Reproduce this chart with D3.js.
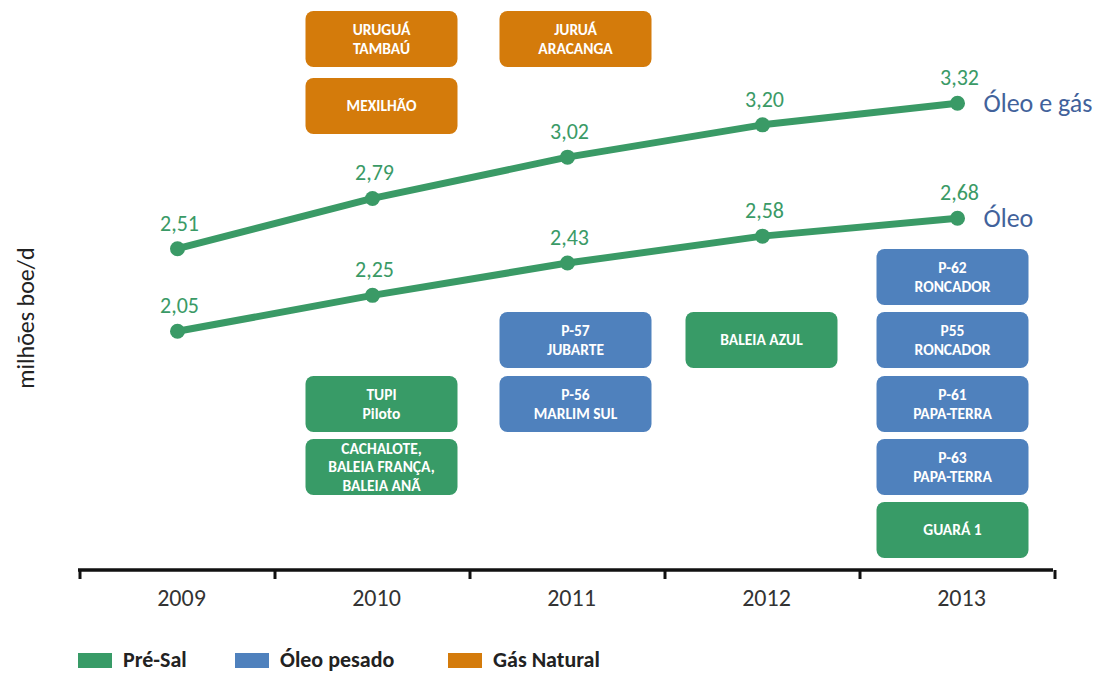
<!DOCTYPE html>
<html>
<head>
<meta charset="utf-8">
<script src="https://cdn.jsdelivr.net/npm/d3@7"></script>
<style>
  html, body { margin: 0; padding: 0; background: #fff; }
  svg { display: block; font-family: Calibri, Carlito, Lato, "Open Sans", sans-serif; }
</style>
</head>
<body>
<svg id="chart" width="1107" height="673"></svg>
<script>
// Production by year (millions boe/d)
const years = ["2009", "2010", "2011", "2012", "2013"];
const oleoGas = [2.51, 2.79, 3.02, 3.20, 3.32];
const oleo = [2.05, 2.25, 2.43, 2.58, 2.68];
const seriesNames = ["Óleo e gás", "Óleo"];

// Project start-ups per year: type, slot (vertical position index), label lines
const projYear  = ["2010", "2010", "2011", "2010", "2010", "2011", "2011", "2012", "2013", "2013", "2013", "2013", "2013"];
const projType  = ["gas", "gas", "gas", "presal", "presal", "pesado", "pesado", "presal", "pesado", "pesado", "pesado", "pesado", "presal"];
const projSlot  = [0, 1, 0, 4, 5, 3, 4, 3, 2, 3, 4, 5, 6];
const projLines = [
  ["URUGUÁ", "TAMBAÚ"],
  ["MEXILHÃO"],
  ["JURUÁ", "ARACANGA"],
  ["TUPI", "Piloto"],
  ["CACHALOTE,", "BALEIA FRANÇA,", "BALEIA ANÃ"],
  ["P-57", "JUBARTE"],
  ["P-56", "MARLIM SUL"],
  ["BALEIA AZUL"],
  ["P-62", "RONCADOR"],
  ["P55", "RONCADOR"],
  ["P-61", "PAPA-TERRA"],
  ["P-63", "PAPA-TERRA"],
  ["GUARÁ 1"]
];

const legendKeys = ["presal", "pesado", "gas"];
const legendLabels = ["Pré-Sal", "Óleo pesado", "Gás Natural"];

const colors = { presal: "#389b67", pesado: "#4f81bd", gas: "#d47b0b" };
const lineColor = "#3a9a66";
const seriesLabelColor = "#42629b";

const svg = d3.select("#chart");

const x = d3.scaleBand().domain(years).range([80, 1055]);
const y = d3.scaleLinear().domain([0.72, 3.89]).range([570, 1]);
const cx = d => x(d) + x.bandwidth() / 2;

// Box column layout: horizontal nudge per column and slot top positions
const boxShift = { "2009": 0, "2010": 9, "2011": 8, "2012": -1, "2013": -5 };
const slotTop = [11, 78, 249, 312, 376, 439, 502];
const boxW = 152, boxH = 56;

// Project boxes
const boxes = svg.append("g").selectAll("g")
  .data(projYear.map((yr, i) => ({ yr, type: projType[i], slot: projSlot[i], lines: projLines[i] })))
  .join("g")
  .attr("transform", d => `translate(${cx(d.yr) + boxShift[d.yr] - boxW / 2},${slotTop[d.slot]})`);

boxes.append("rect")
  .attr("width", boxW).attr("height", boxH)
  .attr("rx", 8).attr("ry", 8)
  .attr("fill", d => colors[d.type]);

boxes.each(function(d) {
  const g = d3.select(this);
  const lh = 18.5;
  const n = d.lines.length;
  const y0 = boxH / 2 - (n - 1) * lh / 2;
  d.lines.forEach((t, k) => {
    g.append("text")
      .attr("x", boxW / 2)
      .attr("y", y0 + k * lh)
      .attr("dy", "0.35em")
      .attr("text-anchor", "middle")
      .attr("fill", "#fff")
      .attr("font-weight", "bold")
      .attr("font-size", 15.5)
      .text(t);
  });
});

// Lines with markers and value labels
const line = d3.line().x((d, i) => cx(years[i])).y(d => y(d));
[oleoGas, oleo].forEach((vals, s) => {
  svg.append("path")
    .attr("d", line(vals))
    .attr("fill", "none")
    .attr("stroke", lineColor)
    .attr("stroke-width", 7)
    .attr("stroke-linejoin", "round");
  svg.append("g").selectAll("circle")
    .data(vals).join("circle")
    .attr("cx", (d, i) => cx(years[i]))
    .attr("cy", d => y(d))
    .attr("r", 7.5)
    .attr("fill", lineColor);
  svg.append("g").selectAll("text")
    .data(vals).join("text")
    .attr("x", (d, i) => cx(years[i]) + 2)
    .attr("y", d => y(d) - 18)
    .attr("text-anchor", "middle")
    .attr("fill", lineColor)
    .attr("font-size", 22)
    .text(d => d.toFixed(2).replace(".", ","));
  svg.append("text")
    .attr("x", cx(years[years.length - 1]) + 26)
    .attr("y", y(vals[vals.length - 1]))
    .attr("dy", "0.35em")
    .attr("fill", seriesLabelColor)
    .attr("font-size", 26)
    .text(seriesNames[s]);
});

// Category axis
const axisG = svg.append("g");
axisG.append("line")
  .attr("x1", 78).attr("x2", 1053)
  .attr("y1", 570).attr("y2", 570)
  .attr("stroke", "#111").attr("stroke-width", 3.5);
const tickPos = years.map(d => x(d)).concat([x(years[years.length - 1]) + x.bandwidth()]);
axisG.selectAll("line.tick").data(tickPos).join("line")
  .attr("class", "tick")
  .attr("x1", d => d).attr("x2", d => d)
  .attr("y1", 570).attr("y2", 579)
  .attr("stroke", "#111").attr("stroke-width", 3);
axisG.selectAll("text").data(years).join("text")
  .attr("x", d => cx(d) + 4)
  .attr("y", 598)
  .attr("dy", "0.35em")
  .attr("text-anchor", "middle")
  .attr("fill", "#333")
  .attr("font-size", 24)
  .text(d => d);

// Y axis title
svg.append("text")
  .attr("transform", "translate(26,318) rotate(-90)")
  .attr("text-anchor", "middle")
  .attr("dy", "0.35em")
  .attr("fill", "#222")
  .attr("font-size", 24)
  .text("milhões boe/d");

// Legend
const legendX = [78, 235, 448];
const legend = svg.append("g").selectAll("g")
  .data(legendKeys).join("g")
  .attr("transform", (d, i) => `translate(${legendX[i]},659)`);
legend.append("rect")
  .attr("x", 0).attr("y", -6)
  .attr("width", 34).attr("height", 15)
  .attr("fill", d => colors[d]);
legend.append("text")
  .attr("x", 45).attr("dy", "0.35em")
  .attr("fill", "#222")
  .attr("font-weight", "bold")
  .attr("font-size", 22)
  .text((d, i) => legendLabels[i]);
</script>
</body>
</html>
